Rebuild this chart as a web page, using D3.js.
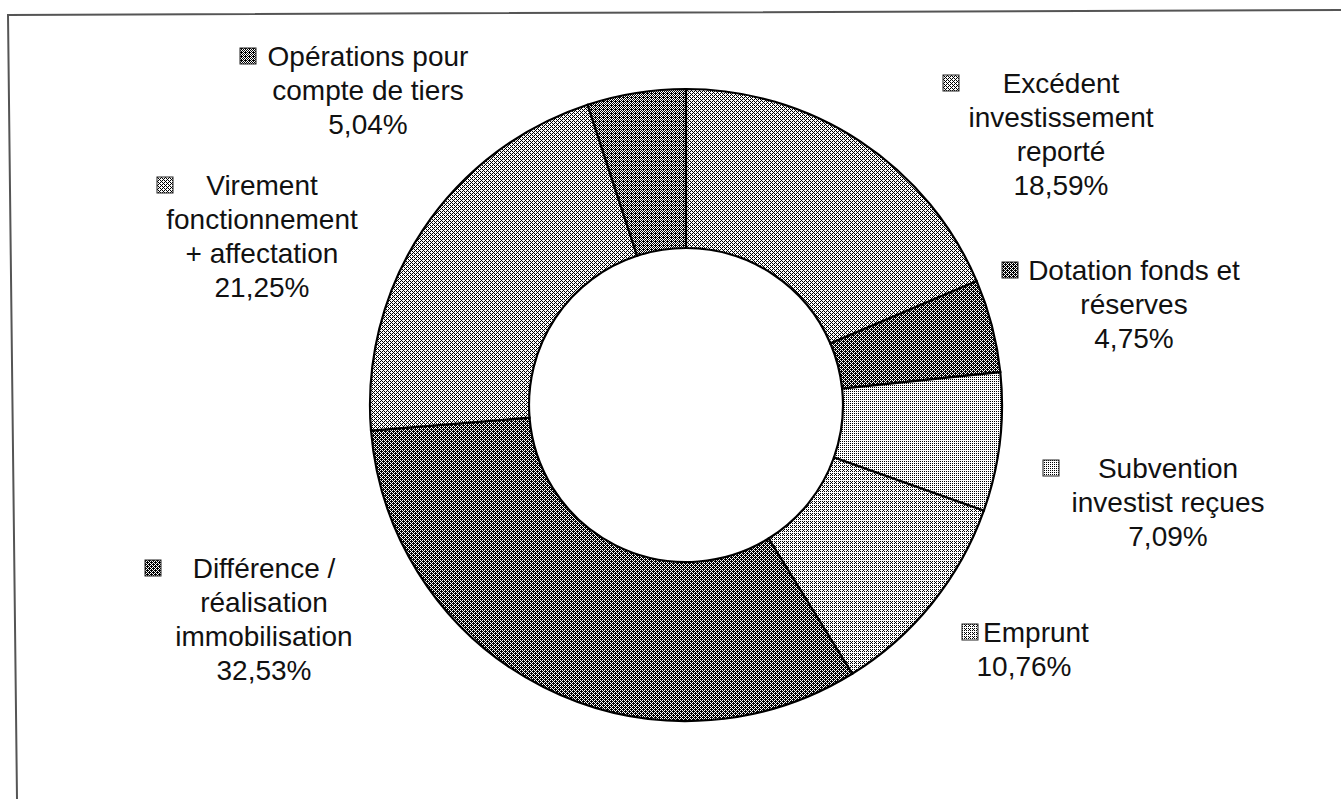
<!DOCTYPE html>
<html>
<head>
<meta charset="utf-8">
<script src="https://cdn.jsdelivr.net/npm/d3@7"></script>
<style>
  body { margin: 0; background: #fff; }
  svg { display: block; }
  text { font-family: "Liberation Sans", Arial, sans-serif; font-size: 28px; fill: #111; }
</style>
</head>
<body>
<div class="chart"></div>
<script>
// slices, clockwise from 12 o'clock
const categories = ["Excédent investissement reporté", "Dotation fonds et réserves", "Subvention investist reçues",
                    "Emprunt", "Différence / réalisation immobilisation", "Virement fonctionnement + affectation",
                    "Opérations pour compte de tiers"];
const shares = [18.59, 4.75, 7.09, 10.76, 32.53, 21.25, 5.04];
const shareLabels = ["18,59%", "4,75%", "7,09%", "10,76%", "32,53%", "21,25%", "5,04%"];
const labelLines = [
  ["Excédent", "investissement", "reporté"],
  ["Dotation fonds et", "réserves"],
  ["Subvention", "investist reçues"],
  ["Emprunt"],
  ["Différence /", "réalisation", "immobilisation"],
  ["Virement", "fonctionnement", "+ affectation"],
  ["Opérations pour", "compte de tiers"]
];
// share of black dots in each slice's halftone
const shades = [0.40, 0.62, 0.25, 0.31, 0.62, 0.36, 0.55];

// where each label block sits: text centre x, first line centre x, first baseline, legend key x
const labelPos = [
  {x: 1061, x0: 1061, y: 93, key: 943},
  {x: 1134, x0: 1134, y: 280, key: 1002},
  {x: 1168, x0: 1168, y: 478, key: 1043},
  {x: 1024, x0: 1036, y: 642, key: 962},
  {x: 264, x0: 264, y: 578, key: 145},
  {x: 262, x0: 262, y: 195, key: 157},
  {x: 368, x0: 368, y: 66, key: 240}
];

const width = 1341, height = 799;
const cx = 686, cy = 405, outerR = 316, innerR = 157;
const lineH = 34;

const svg = d3.select('.chart')
              .append('svg')
              .attr('width', width)
              .attr('height', height);

// halftone patterns (ordered dither)
const bayer = [[0, 8, 2, 10], [12, 4, 14, 6], [3, 11, 1, 9], [15, 7, 13, 5]];
const defs = svg.append('defs');
shades.forEach((s, i) => {
  const p = defs.append('pattern')
                .attr('id', 'dither' + i)
                .attr('patternUnits', 'userSpaceOnUse')
                .attr('width', 4)
                .attr('height', 4);
  p.append('rect').attr('width', 4).attr('height', 4).attr('fill', '#fff');
  for (let r = 0; r < 4; r++) {
    for (let c = 0; c < 4; c++) {
      if (bayer[r][c] < Math.round(s * 16)) {
        p.append('rect').attr('x', c).attr('y', r).attr('width', 1).attr('height', 1).attr('fill', '#000');
      }
    }
  }
});

// scanned frame (slightly skewed)
svg.append('path')
   .attr('d', 'M17,799 L8,15 L1341,10')
   .attr('fill', 'none')
   .attr('stroke', '#555')
   .attr('stroke-width', 2);

const pie = d3.pie().sort(null).value(d => d);
const arc = d3.arc().innerRadius(innerR).outerRadius(outerR);

svg.append('g')
   .attr('transform', `translate(${cx},${cy})`)
   .selectAll('path')
   .data(pie(shares))
   .enter()
   .append('path')
   .attr('d', arc)
   .attr('fill', (d, i) => `url(#dither${i})`)
   .attr('stroke', '#000')
   .attr('stroke-width', 2.2);

// labels
const labels = svg.append('g');
categories.forEach((c, i) => {
  const pos = labelPos[i];
  const lines = labelLines[i].concat([shareLabels[i]]);
  const t = labels.append('text')
                  .attr('text-anchor', 'middle');
  lines.forEach((l, j) => {
    t.append('tspan')
     .attr('x', j === 0 ? pos.x0 : pos.x)
     .attr('y', pos.y + j * lineH)
     .text(l);
  });
  labels.append('rect')
        .attr('x', pos.key)
        .attr('y', pos.y - 18)
        .attr('width', 16)
        .attr('height', 16)
        .attr('fill', `url(#dither${i})`)
        .attr('stroke', '#222')
        .attr('stroke-width', 1);
});
</script>
</body>
</html>
